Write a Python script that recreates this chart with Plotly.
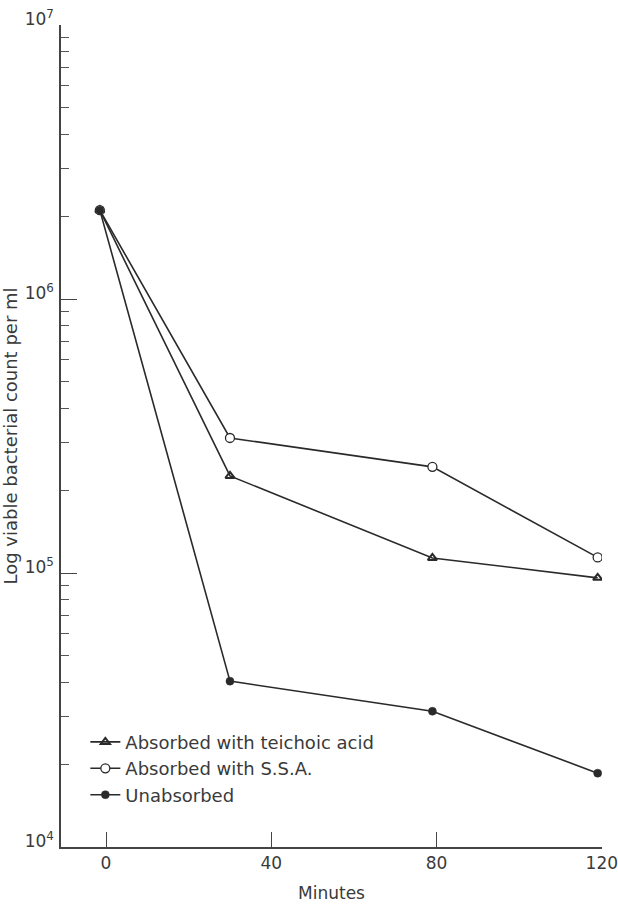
import plotly.graph_objects as go

# Data
minutes_start = -1.5
minutes = [minutes_start, 30, 79, 119]
teichoic = [2.11e6, 2.26e5, 1.135e5, 9.6e4]
ssa = [2.11e6, 3.11e5, 2.44e5, 1.14e5]
unabsorbed = [2.11e6, 4.03e4, 3.13e4, 1.86e4]

series_names = ["Absorbed with teichoic acid", "Absorbed with S.S.A.", "Unabsorbed"]
x_ticks = [0, 40, 80, 120]
y_ticks = [1e4, 1e5, 1e6, 1e7]
y_ticktext = ["10<sup>4</sup>", "10<sup>5</sup>", "10<sup>6</sup>", "10<sup>7</sup>"]

ink = "#2a2a2a"
txt = "#3a3a3a"
font_family = "DejaVu Sans, Liberation Sans, Arial, sans-serif"

fig = go.Figure()
fig.add_trace(go.Scatter(
    x=minutes, y=teichoic, name=series_names[0], mode="lines+markers", legendgroup="a",
    line=dict(color=ink, width=1.6),
    marker=dict(symbol="triangle-up-open", size=8, color=ink, line=dict(width=2, color=ink)),
))
fig.add_trace(go.Scatter(
    x=minutes, y=ssa, name=series_names[1], mode="lines+markers", legendgroup="b",
    line=dict(color=ink, width=1.6),
    marker=dict(symbol="circle", size=9, color="white", line=dict(width=1.3, color=ink)),
))
fig.add_trace(go.Scatter(
    x=minutes, y=unabsorbed, name=series_names[2], mode="lines+markers", legendgroup="c",
    line=dict(color=ink, width=1.6),
    marker=dict(symbol="circle", size=8, color=ink, line=dict(width=0.5, color=ink)),
))

fig.update_layout(
    width=618, height=906,
    margin=dict(l=61, r=16, t=25, b=59),
    paper_bgcolor="white", plot_bgcolor="white",
    font=dict(family=font_family, size=17, color=txt),
    showlegend=True,
    legend=dict(
        x=0.045, y=0.15, xanchor="left", yanchor="top",
        bgcolor="rgba(0,0,0,0)", font=dict(size=18, color=txt),
        itemwidth=30, tracegroupgap=0,
    ),
    xaxis=dict(
        range=[-10.9, 120.05], tickvals=x_ticks, ticks="inside", ticklen=15,
        tickwidth=1.4, tickcolor="#444", showline=True, linecolor="#444", linewidth=1.5,
        showgrid=False, zeroline=False, mirror=False, automargin=False,
        ticklabeloverflow="allow",
        title=dict(text="Minutes", font=dict(size=17, color=txt)),
        tickfont=dict(size=17, color=txt),
    ),
    yaxis=dict(
        type="log", range=[4, 7], tickvals=y_ticks, ticktext=y_ticktext,
        ticks="inside", ticklen=16, tickwidth=1.4, tickcolor="#444",
        showline=True, linecolor="#444", linewidth=1.5, showgrid=False, zeroline=False,
        ticklabelshift=-6, ticklabelstandoff=2, automargin=False,
        ticklabeloverflow="allow",
        minor=dict(ticks="inside", ticklen=8, tickwidth=1.2, tickcolor="#555",
                   dtick="D1", showgrid=False),
        title=dict(text="Log viable bacterial count per ml", font=dict(size=18, color=txt)),
        tickfont=dict(size=17, color=txt),
    ),
)

fig.write_html("out.html")
